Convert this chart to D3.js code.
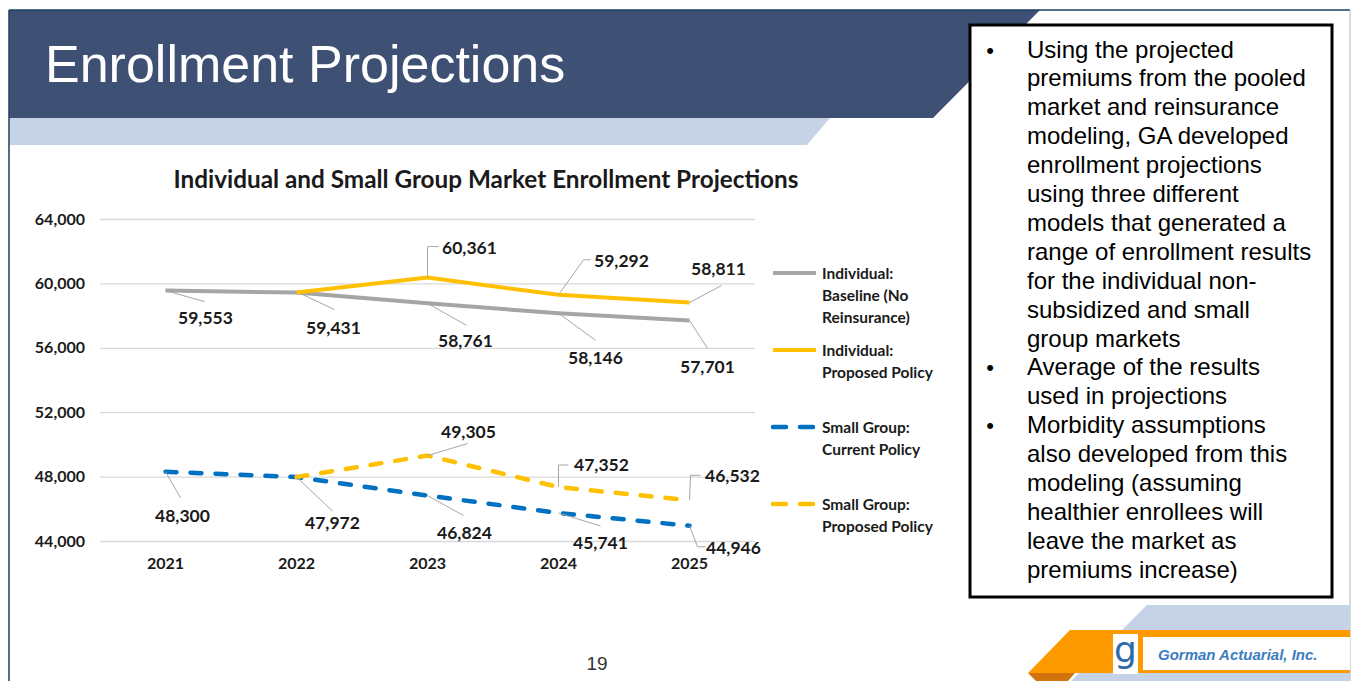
<!DOCTYPE html>
<html>
<head>
<meta charset="utf-8">
<script src="https://cdn.jsdelivr.net/npm/d3@7"></script>
<style>
  html, body { margin: 0; padding: 0; background: #fff; }
  svg { display: block; }
</style>
</head>
<body>
<div id="chart"></div>
<script>
// chart data
const years = ["2021", "2022", "2023", "2024", "2025"];
const yTicks = [44000, 48000, 52000, 56000, 60000, 64000];
const indivBaseline = [59553, 59431, 58761, 58146, 57701];
const indivProposed = [null, 59431, 60361, 59292, 58811];
const smallCurrent = [48300, 47972, 46824, 45741, 44946];
const smallProposed = [null, 47972, 49305, 47352, 46532];

const seriesNames = [
    ["Individual:", "Baseline (No", "Reinsurance)"],
    ["Individual:", "Proposed Policy"],
    ["Small Group:", "Current Policy"],
    ["Small Group:", "Proposed Policy"]
];

const bullets = [
    ["Using the projected", "premiums from the pooled", "market and reinsurance",
     "modeling, GA developed", "enrollment projections", "using three different",
     "models that generated a", "range of enrollment results", "for the individual non-",
     "subsidized and small", "group markets"],
    ["Average of the results", "used in projections"],
    ["Morbidity assumptions", "also developed from this", "modeling (assuming",
     "healthier enrollees will", "leave the market as", "premiums increase)"]
];

// label callouts: text offset from point, leader path offsets
const callouts = [
    [{t:[40,27], l:[[0,0],[39,11]]}, {t:[37,35], l:[[4,1],[38,17]]}, {t:[38,37], l:[[0,0],[39,22]]},
     {t:[37,44], l:[[0,0],[37,27]]}, {t:[18,46], l:[[0,0],[18,28]]}],
    [null, null, {t:[42,-30], l:[[0,0],[0,-31],[11,-31]]}, {t:[63,-34], l:[[0,0],[25,-35],[32,-35]]},
     {t:[29,-34], l:[[0,0],[32,-17]]}],
    [{t:[17,44], l:[[0,0],[15,26]]}, {t:[36,46], l:[[0,0],[36,34]]}, {t:[37,37], l:[[0,0],[36,20]]},
     {t:[42,30], l:[[0,0],[42,13]]}, {t:[44,22], l:[[0,0],[8,21],[16,21]]}],
    [null, null, {t:[41,-24], l:[[0,0],[40,-12]]}, {t:[43,-22], l:[[0,0],[0,-22],[10,-22]]},
     {t:[43,-25], l:[[0,0],[1,-25],[11,-25]]}]
];

const W = 1357, H = 681;
const svg = d3.select("#chart").append("svg").attr("width", W).attr("height", H);
svg.append("rect").attr("width", W).attr("height", H).attr("fill", "#fff");

// slide decoration
svg.append("polygon").attr("points", "9,10 1040,10 933,118 9,118").attr("fill", "#3e5175");
svg.append("polygon").attr("points", "9,118 830,118 807,145 9,145").attr("fill", "#c6d3e6");
svg.append("line").attr("x1", 9).attr("y1", 10).attr("x2", 1350).attr("y2", 10)
    .attr("stroke", "#1d3f63").attr("stroke-width", 1.5);
svg.append("line").attr("x1", 9).attr("y1", 10).attr("x2", 9).attr("y2", H)
    .attr("stroke", "#1d3f63").attr("stroke-width", 1.5);
svg.append("line").attr("x1", 1350).attr("y1", 10).attr("x2", 1350).attr("y2", H)
    .attr("stroke", "#aeb8c6").attr("stroke-width", 1);

svg.append("text")
    .attr("x", 45).attr("y", 82)
    .style("font-family", "'Liberation Sans', Arial, sans-serif")
    .style("font-size", "52px")
    .attr("fill", "#fff")
    .text("Enrollment Projections");

// text box
svg.append("rect").attr("x", 970).attr("y", 25).attr("width", 362).attr("height", 572)
    .attr("fill", "#fff").attr("stroke", "#000").attr("stroke-width", 3);
let line = 0;
bullets.forEach(b => {
    svg.append("text").attr("x", 990).attr("y", 57.5 + line * 28.9)
        .attr("text-anchor", "middle")
        .style("font-family", "'Liberation Sans', Arial, sans-serif").style("font-size", "22px")
        .attr("fill", "#000").text("•");
    b.forEach(s => {
        svg.append("text").attr("x", 1027).attr("y", 57.5 + line * 28.9)
            .style("font-family", "'Liberation Sans', Arial, sans-serif").style("font-size", "24px")
            .attr("fill", "#000").text(s);
        line++;
    });
});

// footer
svg.append("polygon").attr("points", "1147,605 1350,605 1350,681 1071,681").attr("fill", "#c6d3e6");
svg.append("polygon").attr("points", "1070,630 1350,630 1350,673 1028,673").attr("fill", "#fd9a00");
svg.append("polygon").attr("points", "1028,673 1075,673 1068,681 1036,681").attr("fill", "#d0730c");
svg.append("rect").attr("x", 1143).attr("y", 637).attr("width", 207).attr("height", 33).attr("fill", "#fff");
svg.append("rect").attr("x", 1113).attr("y", 634).attr("width", 25).attr("height", 40).attr("fill", "#fff");
svg.append("text").attr("x", 1125.5).attr("y", 662).attr("text-anchor", "middle")
    .style("font-family", "'DejaVu Sans', sans-serif").style("font-size", "36px")
    .attr("fill", "#2f6aa8").text("g");
svg.append("text").attr("x", 1158).attr("y", 660)
    .style("font-family", "'Liberation Sans', Arial, sans-serif").style("font-size", "15px")
    .style("font-weight", "bold").style("font-style", "italic")
    .attr("fill", "#3d7cc0").text("Gorman Actuarial, Inc.");
svg.append("text").attr("x", 597).attr("y", 670).attr("text-anchor", "middle")
    .style("font-family", "'Liberation Sans', Arial, sans-serif").style("font-size", "19px")
    .attr("fill", "#333").text("19");

// chart
const font = "Lato, 'Open Sans', sans-serif";
const x = d3.scaleBand().domain(years).range([100, 755]);
const y = d3.scaleLinear().domain([44000, 64000]).range([541, 219]);
const cx = d => x(d) + x.bandwidth() / 2;

const title = svg.append("text")
    .attr("x", 486).attr("y", 188).attr("text-anchor", "middle")
    .style("font-family", font).style("font-weight", "bold").style("font-size", "20px")
    .attr("fill", "#1a1a1a")
    .text("Individual and Small Group Market Enrollment Projections");
const tw = title.node().getComputedTextLength();
title.style("font-size", (20 * 625 / tw).toFixed(2) + "px");

const grid = svg.append("g")
    .attr("transform", "translate(100,0)")
    .call(d3.axisLeft(y).tickValues(yTicks).tickSize(-655).tickPadding(15).tickFormat(d3.format(",")));
grid.select(".domain").remove();
grid.selectAll(".tick line").attr("stroke", "#d9d9d9").attr("stroke-width", 1.3);
grid.selectAll(".tick text")
    .style("font-family", font).style("font-weight", "bold").style("font-size", "16px")
    .attr("fill", "#1a1a1a");

const xa = svg.append("g")
    .attr("transform", "translate(0,541)")
    .call(d3.axisBottom(x).tickSize(0).tickPadding(17));
xa.select(".domain").remove();
xa.selectAll(".tick text")
    .style("font-family", font).style("font-weight", "bold").style("font-size", "16px")
    .attr("fill", "#1a1a1a");

const series = [
    {values: indivBaseline, color: "#a5a5a5", dash: null, width: 4},
    {values: indivProposed, color: "#ffc000", dash: null, width: 4},
    {values: smallCurrent, color: "#0070c0", dash: "11,14", width: 4.5},
    {values: smallProposed, color: "#ffc000", dash: "11,14", width: 4.5}
];

const lineGen = d3.line()
    .defined(d => d.v != null)
    .x(d => cx(d.year))
    .y(d => y(d.v));

series.forEach((s, i) => {
    const pts = years.map((yr, j) => ({year: yr, v: s.values[j]}));
    svg.append("path")
        .datum(pts)
        .attr("d", lineGen)
        .attr("fill", "none")
        .attr("stroke", s.color)
        .attr("stroke-width", s.width)
        .attr("stroke-linecap", s.dash ? "round" : "butt")
        .attr("stroke-linejoin", "round")
        .attr("stroke-dasharray", s.dash);
});

// callout labels
series.forEach((s, i) => {
    years.forEach((yr, j) => {
        const c = callouts[i][j];
        if (!c || s.values[j] == null) return;
        const px = cx(yr), py = y(s.values[j]);
        svg.append("polyline")
            .attr("points", c.l.map(p => (px + p[0]) + "," + (py + p[1])).join(" "))
            .attr("fill", "none").attr("stroke", "#a6a6a6").attr("stroke-width", 1);
        svg.append("text")
            .attr("x", px + c.t[0]).attr("y", py + c.t[1]).attr("dy", "0.36em")
            .attr("text-anchor", "middle")
            .style("font-family", font).style("font-weight", "bold").style("font-size", "17.5px")
            .attr("fill", "#1a1a1a")
            .text(d3.format(",")(s.values[j]));
    });
});

// legend
const legendY = [273, 350, 427, 504];
series.forEach((s, i) => {
    const g = svg.append("g").attr("transform", `translate(0,${legendY[i]})`);
    g.append("line").attr("x1", 773).attr("x2", 816).attr("y1", 0).attr("y2", 0)
        .attr("stroke", s.color).attr("stroke-width", s.width)
        .attr("stroke-linecap", s.dash ? "round" : "butt")
        .attr("stroke-dasharray", s.dash ? "13,14" : null);
    seriesNames[i].forEach((t, k) => {
        g.append("text").attr("x", 822).attr("y", k * 22).attr("dy", "0.36em")
            .style("font-family", font).style("font-weight", "bold").style("font-size", "15.5px")
            .attr("fill", "#1a1a1a").text(t);
    });
});
</script>
</body>
</html>
